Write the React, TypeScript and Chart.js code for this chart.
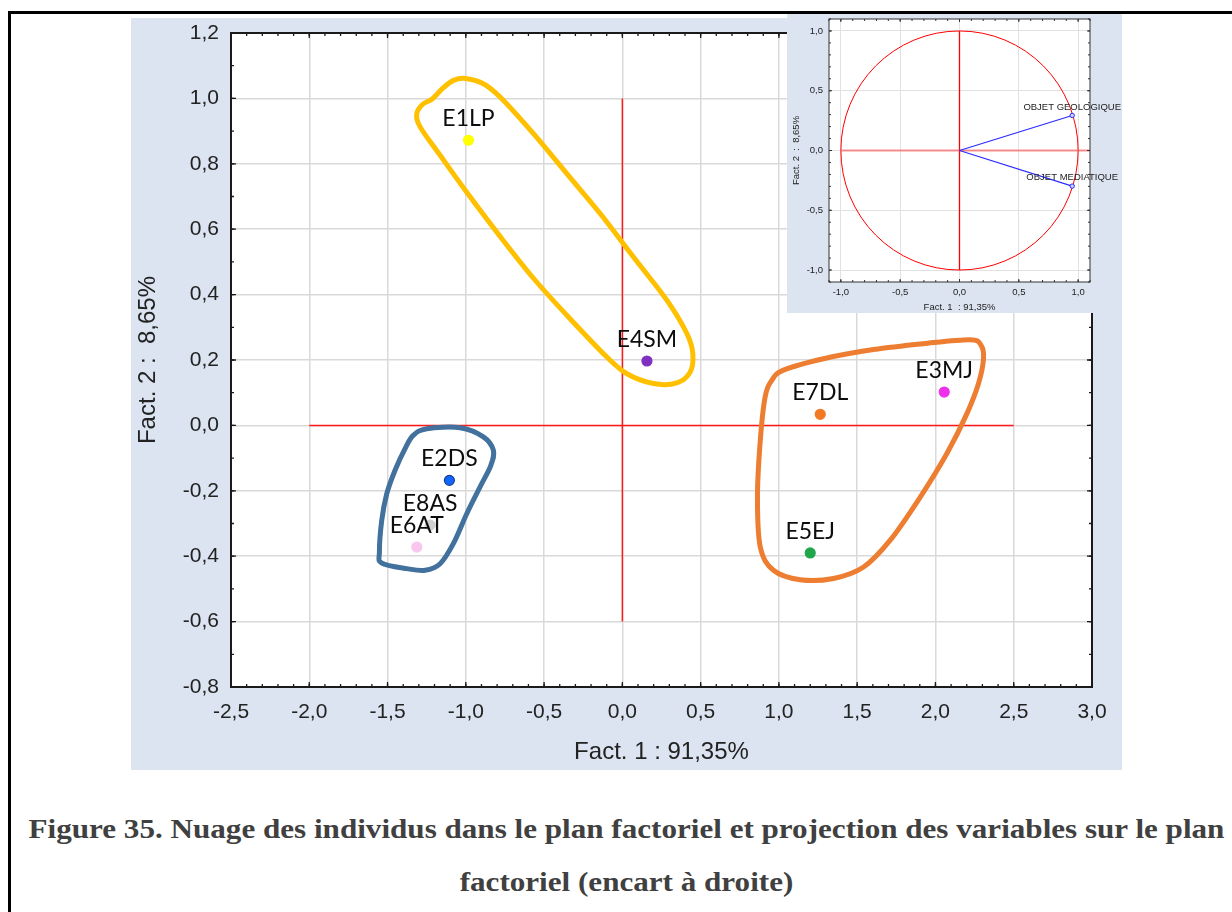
import React, { useEffect, useRef } from 'react';
import { Chart, registerables } from 'chart.js';

Chart.register(...registerables);

// ---------- Main chart data ----------
const individuals = ['E1LP', 'E4SM', 'E7DL', 'E3MJ', 'E5EJ', 'E8AS', 'E2DS', 'E6AT'];
const fact1 = [-0.983, 0.157, 1.264, 2.056, 1.2, -1.228, -1.105, -1.313];
const fact2 = [0.872, 0.197, 0.034, 0.102, -0.39, -0.305, -0.168, -0.372];
const pointColors = ['#ffff00', '#7f30c0', '#f27a22', '#ee30ea', '#20a64a', '#cfcfcf', '#1166ff', '#f9c6ef'];
const pointBorders = ['#ffff00', '#7f30c0', '#f27a22', '#ee30ea', '#20a64a', '#cfcfcf', '#1a3d8f', '#f9c6ef'];

const xTickValues = [-2.5, -2.0, -1.5, -1.0, -0.5, 0.0, 0.5, 1.0, 1.5, 2.0, 2.5, 3.0];
const yTickValues = [-0.8, -0.6, -0.4, -0.2, 0.0, 0.2, 0.4, 0.6, 0.8, 1.0, 1.2];

const hAxisLineX = [-2.0, 2.5];
const vAxisLineY = [1.0, -0.6];

// hand drawn group outlines (closed), in factor coordinates
const groupYellowX = [-1.004, -0.888, -0.781, -0.568, -0.355, -0.142, 0.071, 0.284, 0.412, 0.45, 0.433, 0.348, 0.199, 0.029, -0.099, -0.355, -0.568, -0.781, -0.994, -1.164, -1.292, -1.313, -1.275, -1.215, -1.145, -1.079];
const groupYellowY = [1.061, 1.045, 1.004, 0.892, 0.77, 0.648, 0.515, 0.383, 0.281, 0.22, 0.163, 0.13, 0.128, 0.158, 0.209, 0.337, 0.45, 0.578, 0.713, 0.826, 0.913, 0.954, 0.982, 0.998, 1.032, 1.055];
const groupBlueX = [-1.249, -1.036, -0.888, -0.824, -0.84, -0.909, -0.994, -1.079, -1.164, -1.26, -1.377, -1.537, -1.552, -1.537, -1.505, -1.452, -1.388, -1.335];
const groupBlueY = [-0.01, -0.007, -0.035, -0.076, -0.122, -0.188, -0.27, -0.361, -0.423, -0.443, -0.438, -0.421, -0.387, -0.29, -0.209, -0.137, -0.071, -0.03];
const groupOrangeX = [0.955, 1.029, 1.285, 1.604, 1.924, 2.222, 2.291, 2.307, 2.275, 2.201, 2.073, 1.903, 1.711, 1.541, 1.349, 1.136, 0.965, 0.881, 0.863, 0.881, 0.912];
const groupOrangeY = [0.138, 0.169, 0.204, 0.232, 0.25, 0.262, 0.245, 0.204, 0.128, 0.036, -0.086, -0.219, -0.351, -0.433, -0.468, -0.472, -0.443, -0.372, -0.219, -0.046, 0.087];

const groups = [
  { xs: groupYellowX, ys: groupYellowY, color: '#ffc000' },
  { xs: groupBlueX, ys: groupBlueY, color: '#41719c' },
  { xs: groupOrangeX, ys: groupOrangeY, color: '#ed7d31' },
];

// ---------- Inset data ----------
const variables = ['OBJET GEOLOGIQUE', 'OBJET MEDIATIQUE'];
const varFact1 = [0.95, 0.95];
const varFact2 = [0.293, -0.298];
const insetTickValues = [-1.0, -0.5, 0.0, 0.5, 1.0];
const insetHLineX = [-1.0, 1.1];
const insetVLineY = [1.0, -1.0];
const circleRadius = 1.0;

const fmt = (v: number) => (Math.abs(v) < 1e-9 ? 0 : v).toFixed(1).replace('.', ',');

function steps(min: number, max: number, step: number) {
  const out: number[] = [];
  const n = Math.round((max - min) / step);
  for (let i = 0; i <= n; i++) out.push(Math.round((min + i * step) * 1000) / 1000);
  return out;
}

const noOverflow = (s: any) => {
  s.paddingTop = 0;
  s.paddingBottom = 0;
  s.paddingLeft = 0;
  s.paddingRight = 0;
};

function framePlugin(id: string, cfg: any) {
  return {
    id,
    beforeDraw(chart: any) {
      const { ctx, chartArea: a } = chart;
      ctx.save();
      ctx.fillStyle = '#ffffff';
      ctx.fillRect(a.left, a.top, a.right - a.left, a.bottom - a.top);
      ctx.restore();
    },
    afterDraw(chart: any) {
      const { ctx, chartArea: a, scales } = chart;
      ctx.save();
      ctx.strokeStyle = cfg.color;
      ctx.lineWidth = cfg.tickWidth;
      const drawX = (vals: number[], len: number) => {
        vals.forEach((v) => {
          const px = scales.x.getPixelForValue(v);
          ctx.beginPath();
          ctx.moveTo(px, a.bottom);
          ctx.lineTo(px, a.bottom - len);
          ctx.moveTo(px, a.top);
          ctx.lineTo(px, a.top + len);
          ctx.stroke();
        });
      };
      const drawY = (vals: number[], len: number) => {
        vals.forEach((v) => {
          const py = scales.y.getPixelForValue(v);
          ctx.beginPath();
          ctx.moveTo(a.left, py);
          ctx.lineTo(a.left + len, py);
          ctx.moveTo(a.right, py);
          ctx.lineTo(a.right - len, py);
          ctx.stroke();
        });
      };
      drawX(cfg.xMinor, cfg.minorLen);
      drawY(cfg.yMinor, cfg.minorLen);
      drawX(cfg.xMajor, cfg.majorLen);
      drawY(cfg.yMajor, cfg.majorLen);
      ctx.lineWidth = cfg.frameWidth;
      ctx.strokeRect(a.left, a.top, a.right - a.left, a.bottom - a.top);
      ctx.restore();
    },
  };
}

function closedSpline(ctx: any, pts: { x: number; y: number }[]) {
  const n = pts.length;
  ctx.beginPath();
  ctx.moveTo(pts[0].x, pts[0].y);
  for (let i = 0; i < n; i++) {
    const p0 = pts[(i - 1 + n) % n];
    const p1 = pts[i];
    const p2 = pts[(i + 1) % n];
    const p3 = pts[(i + 2) % n];
    const c1x = p1.x + (p2.x - p0.x) / 6;
    const c1y = p1.y + (p2.y - p0.y) / 6;
    const c2x = p2.x - (p3.x - p1.x) / 6;
    const c2y = p2.y - (p3.y - p1.y) / 6;
    ctx.bezierCurveTo(c1x, c1y, c2x, c2y, p2.x, p2.y);
  }
  ctx.closePath();
}

const groupsPlugin = {
  id: 'groups',
  afterDatasetDraw(chart: any, args: any) {
    if (args.index !== 1) return;
    const { ctx, scales } = chart;
    ctx.save();
    ctx.lineWidth = 5;
    ctx.lineJoin = 'round';
    groups.forEach((g) => {
      const pts = g.xs.map((x, i) => ({ x: scales.x.getPixelForValue(x), y: scales.y.getPixelForValue(g.ys[i]) }));
      ctx.strokeStyle = g.color;
      closedSpline(ctx, pts);
      ctx.stroke();
    });
    ctx.restore();
  },
  afterDatasetsDraw(chart: any) {
    const { ctx } = chart;
    const meta = chart.getDatasetMeta(0);
    ctx.save();
    ctx.font = '23px Lato, "Open Sans", sans-serif';
    ctx.fillStyle = '#0d0d0d';
    ctx.textAlign = 'center';
    ctx.textBaseline = 'middle';
    meta.data.forEach((el: any, i: number) => {
      ctx.fillText(individuals[i], el.x, el.y - 21.5);
    });
    ctx.restore();
  },
};

const insetPlugin = {
  id: 'insetExtras',
  beforeDatasetsDraw(chart: any) {
    const { ctx, scales } = chart;
    const cx = scales.x.getPixelForValue(0);
    const cy = scales.y.getPixelForValue(0);
    const rx = scales.x.getPixelForValue(circleRadius) - cx;
    const ry = cy - scales.y.getPixelForValue(circleRadius);
    ctx.save();
    ctx.strokeStyle = '#ff0000';
    ctx.lineWidth = 1;
    ctx.beginPath();
    ctx.ellipse(cx, cy, rx, ry, 0, 0, Math.PI * 2);
    ctx.stroke();
    ctx.restore();
  },
  afterDatasetsDraw(chart: any) {
    const { ctx } = chart;
    ctx.save();
    ctx.font = '9.5px "Liberation Sans", Arial, sans-serif';
    ctx.fillStyle = '#222';
    ctx.textAlign = 'center';
    ctx.textBaseline = 'middle';
    variables.forEach((name, i) => {
      const meta = chart.getDatasetMeta(i);
      const el = meta.data[1];
      ctx.fillText(name, el.x, el.y - 8.4);
    });
    ctx.restore();
  },
};

const SANS = '"Liberation Sans", Arial, sans-serif';

function MainChart() {
  const ref = useRef<HTMLCanvasElement>(null);
  useEffect(() => {
    const chart = new Chart(ref.current as HTMLCanvasElement, {
      type: 'scatter',
      data: {
        datasets: [
          {
            data: fact1.map((x, i) => ({ x, y: fact2[i] })),
            pointRadius: 5,
            pointBackgroundColor: pointColors,
            pointBorderColor: pointBorders,
            pointBorderWidth: 1.2,
          },
          {
            data: hAxisLineX.map((x) => ({ x, y: 0 })),
            showLine: true,
            borderColor: '#ff1a1a',
            borderWidth: 1.5,
            pointRadius: 0,
          },
          {
            data: vAxisLineY.map((y) => ({ x: 0, y })),
            showLine: true,
            borderColor: '#ff1a1a',
            borderWidth: 1.5,
            pointRadius: 0,
          },
        ],
      } as any,
      options: {
        responsive: false,
        animation: false,
        events: [],
        layout: { padding: { top: 15, right: 30, left: 0, bottom: 0 } },
        plugins: { legend: { display: false }, tooltip: { enabled: false } },
        scales: {
          x: {
            type: 'linear',
            min: -2.5,
            max: 3.0,
            afterBuildTicks: (s: any) => {
              s.ticks = xTickValues.map((v) => ({ value: v }));
            },
            afterFit: (s: any) => {
              s.height = 83;
              noOverflow(s);
            },
            grid: { color: '#d9d9d9', lineWidth: 1.5, drawTicks: false },
            border: { display: false },
            ticks: {
              padding: 13,
              color: '#222',
              maxRotation: 0,
              autoSkip: false,
              font: { family: SANS, size: 21 },
              callback: (v: any) => fmt(Number(v)),
            },
            title: {
              display: true,
              text: 'Fact. 1 : 91,35%',
              color: '#222',
              font: { family: SANS, size: 24 },
              padding: { top: 0, bottom: 3 },
            },
          },
          y: {
            type: 'linear',
            min: -0.8,
            max: 1.2,
            afterBuildTicks: (s: any) => {
              s.ticks = yTickValues.map((v) => ({ value: v }));
            },
            afterFit: (s: any) => {
              s.width = 100;
              noOverflow(s);
            },
            grid: { color: '#d9d9d9', lineWidth: 1.5, drawTicks: false },
            border: { display: false },
            ticks: {
              padding: 12,
              color: '#222',
              autoSkip: false,
              font: { family: SANS, size: 21 },
              callback: (v: any) => fmt(Number(v)),
            },
            title: {
              display: true,
              text: 'Fact. 2 :  8,65%',
              color: '#222',
              font: { family: SANS, size: 24 },
              padding: { top: 3, bottom: 0 },
            },
          },
        },
      } as any,
      plugins: [
        framePlugin('mainFrame', {
          xMinor: steps(-2.5, 3.0, 0.1),
          yMinor: steps(-0.8, 1.2, 0.1),
          xMajor: xTickValues,
          yMajor: yTickValues,
          minorLen: 3,
          majorLen: 5,
          color: '#1a1a1a',
          tickWidth: 1.3,
          frameWidth: 2,
        }),
        groupsPlugin,
      ],
    });
    return () => chart.destroy();
  }, []);
  return <canvas ref={ref} width={991} height={752} style={{ width: 991, height: 752, display: 'block' }} />;
}

function InsetChart() {
  const ref = useRef<HTMLCanvasElement>(null);
  useEffect(() => {
    const chart = new Chart(ref.current as HTMLCanvasElement, {
      type: 'scatter',
      data: {
        datasets: [
          ...variables.map((_, i) => ({
            data: [
              { x: 0, y: 0 },
              { x: varFact1[i], y: varFact2[i] },
            ],
            showLine: true,
            borderColor: '#2b2bff',
            borderWidth: 1.2,
            pointRadius: [0, 2.2],
            pointBackgroundColor: '#d0d0ff',
            pointBorderColor: '#2b2bff',
            pointBorderWidth: 1,
          })),
          {
            data: insetHLineX.map((x) => ({ x, y: 0 })),
            showLine: true,
            borderColor: 'rgba(255,60,60,0.55)',
            borderWidth: 2,
            pointRadius: 0,
          },
          {
            data: insetVLineY.map((y) => ({ x: 0, y })),
            showLine: true,
            borderColor: '#ff0000',
            borderWidth: 1.3,
            pointRadius: 0,
          },
        ],
      } as any,
      options: {
        responsive: false,
        animation: false,
        events: [],
        layout: { padding: { top: 5, right: 32, left: 0, bottom: 0 } },
        plugins: { legend: { display: false }, tooltip: { enabled: false } },
        scales: {
          x: {
            type: 'linear',
            min: -1.1,
            max: 1.1,
            afterBuildTicks: (s: any) => {
              s.ticks = insetTickValues.map((v) => ({ value: v }));
            },
            afterFit: (s: any) => {
              s.height = 31;
              noOverflow(s);
            },
            grid: { color: '#e2e2e2', lineWidth: 1, drawTicks: false },
            border: { display: false },
            ticks: {
              padding: 5,
              color: '#222',
              maxRotation: 0,
              autoSkip: false,
              font: { family: SANS, size: 9.5 },
              callback: (v: any) => fmt(Number(v)),
            },
            title: {
              display: true,
              text: 'Fact. 1  : 91,35%',
              color: '#222',
              font: { family: SANS, size: 9.5 },
              padding: { top: 0, bottom: 0 },
            },
          },
          y: {
            type: 'linear',
            min: -1.1,
            max: 1.1,
            afterBuildTicks: (s: any) => {
              s.ticks = insetTickValues.map((v) => ({ value: v }));
            },
            afterFit: (s: any) => {
              s.width = 42;
              noOverflow(s);
            },
            grid: { color: '#e2e2e2', lineWidth: 1, drawTicks: false },
            border: { display: false },
            ticks: {
              padding: 6,
              color: '#222',
              autoSkip: false,
              font: { family: SANS, size: 9.5 },
              callback: (v: any) => fmt(Number(v)),
            },
            title: {
              display: true,
              text: 'Fact. 2  :  8,65%',
              color: '#222',
              font: { family: SANS, size: 9.5 },
              padding: { top: 4, bottom: 0 },
            },
          },
        },
      } as any,
      plugins: [
        framePlugin('insetFrame', {
          xMinor: steps(-1.1, 1.1, 0.1),
          yMinor: steps(-1.1, 1.1, 0.1),
          xMajor: insetTickValues,
          yMajor: insetTickValues,
          minorLen: 2,
          majorLen: 3,
          color: '#333',
          tickWidth: 1,
          frameWidth: 1,
        }),
        insetPlugin,
      ],
    });
    return () => chart.destroy();
  }, []);
  return <canvas ref={ref} width={335} height={299} style={{ width: 335, height: 299, display: 'block' }} />;
}

const PANEL_BG = '#dbe4f0';

export default function App() {
  const captionStyle: React.CSSProperties = {
    position: 'absolute',
    left: 0,
    width: 1253,
    textAlign: 'center',
    whiteSpace: 'nowrap',
    font: 'bold 27px "Liberation Serif", "Times New Roman", serif',
    lineHeight: '27px',
    color: '#404040',
    transform: 'scaleX(1.152)',
    transformOrigin: '626.5px 50%',
  };
  return (
    <div style={{ position: 'fixed', left: 0, top: 0, width: 1232, height: 912, background: '#fff', overflow: 'hidden' }}>
      <div style={{ position: 'absolute', left: 8, top: 11, width: 1224, height: 3, background: '#000' }} />
      <div style={{ position: 'absolute', left: 8, top: 11, width: 3, height: 901, background: '#000' }} />
      <div style={{ position: 'absolute', left: 131, top: 18, width: 991, height: 752, background: PANEL_BG }}>
        <MainChart />
      </div>
      <div style={{ position: 'absolute', left: 787, top: 14, width: 335, height: 299, background: PANEL_BG }}>
        <InsetChart />
      </div>
      <div style={{ ...captionStyle, top: 816 }}>
        Figure 35. Nuage des individus dans le plan factoriel et projection des variables sur le plan
      </div>
      <div style={{ ...captionStyle, top: 869 }}>factoriel (encart à droite)</div>
    </div>
  );
}
